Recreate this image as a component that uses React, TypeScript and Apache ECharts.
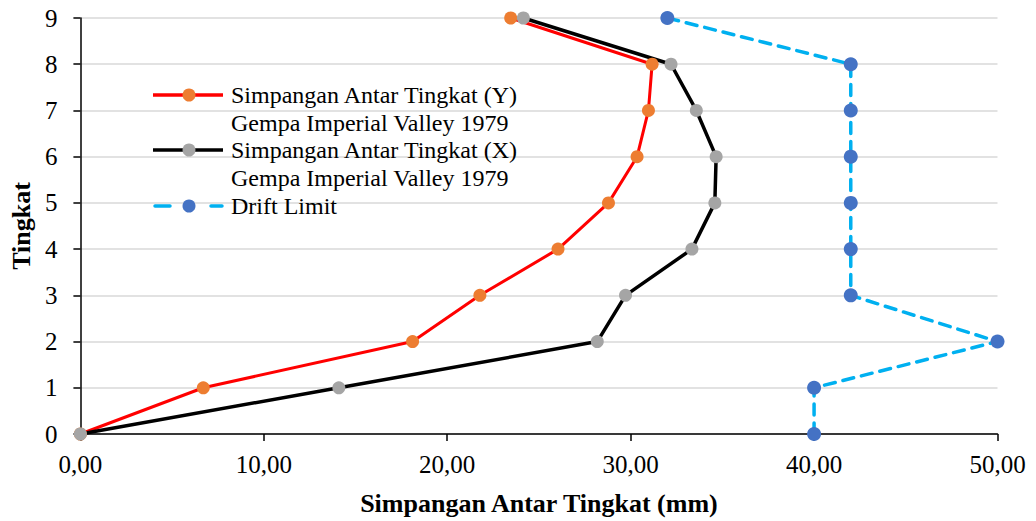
import React, { useEffect, useRef } from "react";
import * as echarts from "echarts";

const levels = [0, 1, 2, 3, 4, 5, 6, 7, 8, 9];
const driftY = [0, 6.7, 18.11, 21.78, 26.04, 28.79, 30.35, 30.97, 31.17, 23.46];
const driftX = [0, 14.09, 28.18, 29.72, 33.34, 34.59, 34.66, 33.58, 32.2, 24.15];
const driftLimit = [40, 40, 50, 42, 42, 42, 42, 42, 42, 32];
const xTicks = [0, 10, 20, 30, 40, 50];

const seriesNames = [
  "Simpangan Antar Tingkat (Y)",
  "Simpangan Antar Tingkat (X)",
  "Drift Limit",
];
const subTitle = "Gempa Imperial Valley 1979";

const FONT = "'Liberation Serif', 'Times New Roman', serif";

export default function App() {
  const ref = useRef<HTMLDivElement>(null);
  useEffect(() => {
    if (!ref.current) return;
    const chart = echarts.init(ref.current, undefined, { renderer: "svg" });
    const pairs = (vals: number[]) => vals.map((v, i) => [v, levels[i]]);
    const legendRow = (
      y: number,
      lineColor: string,
      markerColor: string,
      dashed: boolean,
      text: string
    ) => {
      const items: any[] = [];
      if (dashed) {
        items.push({
          type: "line",
          shape: { x1: 155, y1: y, x2: 170, y2: y },
          style: { stroke: lineColor, lineWidth: 3.5, lineCap: "round" },
          z: 100,
        });
        items.push({
          type: "line",
          shape: { x1: 211, y1: y, x2: 222, y2: y },
          style: { stroke: lineColor, lineWidth: 3.5, lineCap: "round" },
          z: 100,
        });
      } else {
        items.push({
          type: "line",
          shape: { x1: 153, y1: y, x2: 223, y2: y },
          style: { stroke: lineColor, lineWidth: 3.5 },
          z: 100,
        });
      }
      items.push({
        type: "circle",
        shape: { cx: 189, cy: y, r: 6.5 },
        style: { fill: markerColor },
        z: 101,
      });
      items.push({
        type: "text",
        x: 231,
        y: y,
        style: {
          text,
          fill: "#000",
          font: `24px ${FONT}`,
          verticalAlign: "middle",
          align: "left",
        },
        z: 101,
      });
      return items;
    };
    const subText = (y: number) => ({
      type: "text",
      x: 231,
      y,
      style: {
        text: subTitle,
        fill: "#000",
        font: `24px ${FONT}`,
        verticalAlign: "middle",
        align: "left",
      },
      z: 101,
    });

    chart.setOption({
      animation: false,
      backgroundColor: "#fff",
      grid: { left: 78, right: 38.5, top: 18, bottom: 86.5, containLabel: false },
      xAxis: {
        type: "value",
        min: 0,
        max: 50,
        interval: 10,
        name: "Simpangan Antar Tingkat (mm)",
        nameLocation: "middle",
        nameGap: 56,
        nameTextStyle: { fontFamily: FONT, fontWeight: "bold", fontSize: 26, color: "#000" },
        axisLine: { show: true, lineStyle: { color: "#000", width: 1.5 } },
        axisTick: { show: true, length: 7, inside: false, lineStyle: { color: "#000", width: 1.5 } },
        axisLabel: {
          fontFamily: FONT,
          fontSize: 25,
          color: "#000",
          margin: 18,
          formatter: (v: number) => v.toFixed(2).replace(".", ","),
          customValues: xTicks,
        },
        splitLine: { show: false },
      },
      yAxis: {
        type: "value",
        min: 0,
        max: 9,
        interval: 1,
        name: "Tingkat",
        nameLocation: "middle",
        nameGap: 44,
        nameTextStyle: { fontFamily: FONT, fontWeight: "bold", fontSize: 26, color: "#000" },
        axisLine: { show: true, lineStyle: { color: "#000", width: 1.5 } },
        axisTick: { show: true, length: 7, inside: false, lineStyle: { color: "#000", width: 1.5 } },
        axisLabel: { fontFamily: FONT, fontSize: 25, color: "#000", margin: 23 },
        splitLine: { show: true, lineStyle: { color: "#D9D9D9", width: 1.5 } },
      },
      series: [
        {
          name: seriesNames[0],
          type: "line",
          data: pairs(driftY),
          symbol: "circle",
          symbolSize: 13,
          itemStyle: { color: "#ED7D31" },
          lineStyle: { color: "#FF0000", width: 3 },
          clip: false,
        },
        {
          name: seriesNames[1],
          type: "line",
          data: pairs(driftX),
          symbol: "circle",
          symbolSize: 13,
          itemStyle: { color: "#A5A5A5" },
          lineStyle: { color: "#000000", width: 3.5 },
          clip: false,
        },
        {
          name: seriesNames[2],
          type: "line",
          data: pairs(driftLimit),
          symbol: "circle",
          symbolSize: 14,
          itemStyle: { color: "#4472C4" },
          lineStyle: { color: "#00B0F0", width: 3.5, type: [11, 8], cap: "round" },
          clip: false,
        },
      ],
      graphic: [
        ...legendRow(95, "#FF0000", "#ED7D31", false, seriesNames[0]),
        subText(122.5),
        ...legendRow(150, "#000000", "#A5A5A5", false, seriesNames[1]),
        subText(178),
        ...legendRow(206, "#00B0F0", "#4472C4", true, seriesNames[2]),
      ],
    });
    return () => chart.dispose();
  }, []);
  return (
    <div
      ref={ref}
      style={{ position: "fixed", left: 0, top: 0, width: 1036, height: 521, background: "#fff" }}
    />
  );
}
